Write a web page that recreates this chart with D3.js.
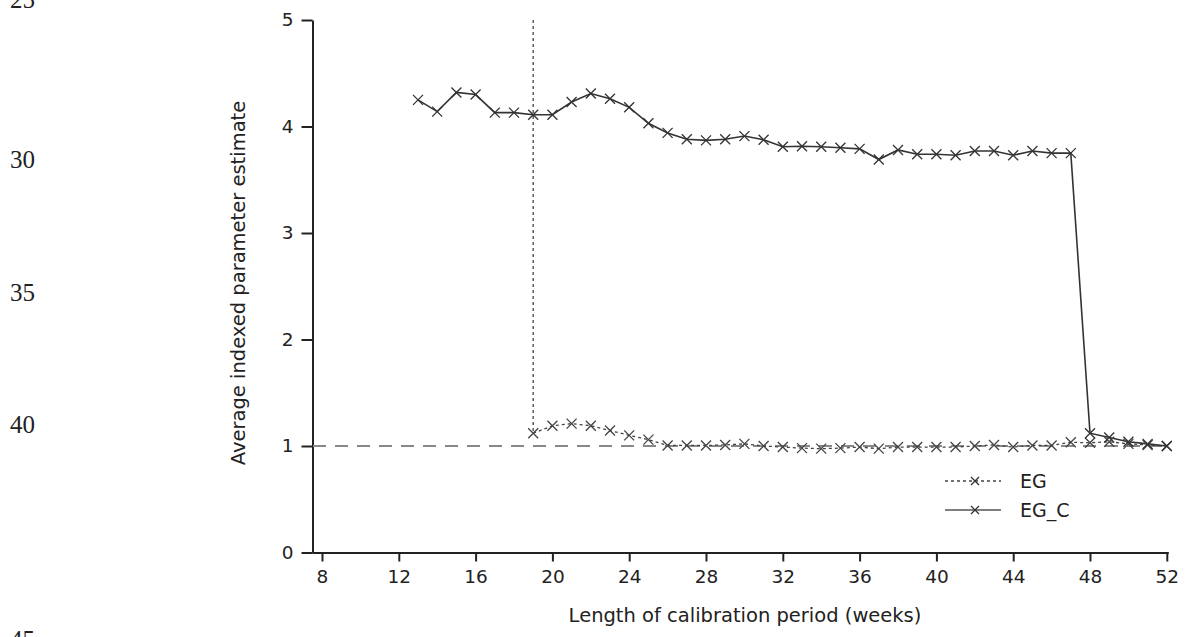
<!DOCTYPE html>
<html>
<head>
<meta charset="utf-8">
<script src="https://cdn.jsdelivr.net/npm/d3@7"></script>
<style>
  html, body { margin: 0; padding: 0; background: #fff; }
  svg { display: block; }
  text { font-family: "DejaVu Sans", "Noto Sans", sans-serif; fill: #222; }
  .lineno { font-family: "Liberation Serif", serif; font-size: 25px; fill: #222; }
</style>
</head>
<body>
<svg id="chart" width="1186" height="637"></svg>
<script>
// ---- data ----
const weeksEGC = [13,14,15,16,17,18,19,20,21,22,23,24,25,26,27,28,29,30,31,32,33,34,35,36,37,38,39,40,41,42,43,44,45,46,47,48,49,50,51,52];
const valuesEGC = [4.25,4.14,4.32,4.30,4.13,4.13,4.11,4.11,4.23,4.31,4.26,4.18,4.03,3.94,3.88,3.87,3.88,3.91,3.875,3.81,3.815,3.81,3.80,3.79,3.69,3.78,3.74,3.74,3.73,3.77,3.77,3.73,3.77,3.75,3.75,1.12,1.08,1.04,1.02,1.00];
const weeksEG = [19,20,21,22,23,24,25,26,27,28,29,30,31,32,33,34,35,36,37,38,39,40,41,42,43,44,45,46,47,48,49,50,51,52];
const valuesEG = [1.12,1.19,1.21,1.19,1.145,1.10,1.06,1.005,1.005,1.005,1.01,1.02,1.0,0.99,0.98,0.975,0.98,0.99,0.975,0.99,0.99,0.99,0.99,1.0,1.01,0.99,1.005,1.005,1.035,1.03,1.04,1.02,1.01,1.00];
const egOffscaleWeek = 19;     // EG drops in from above the top of the axis at this week
const referenceLevel = 1;
const xTicks = [8,12,16,20,24,28,32,36,40,44,48,52];
const yTicks = [0,1,2,3,4,5];
const seriesNames = ["EG", "EG_C"];
const lineNumbers = ["25","30","35","40","45"];

// ---- layout ----
const svg = d3.select("#chart");
const x = d3.scaleLinear().domain([8, 52]).range([322, 1166.8]);
const y = d3.scaleLinear().domain([0, 5]).range([552.5, 20]);

// manuscript line numbers
const lineNoY = [8, 168, 301, 433, 648];
svg.selectAll("text.lineno").data(lineNumbers).join("text")
  .attr("class", "lineno")
  .attr("x", 10).attr("y", (d, i) => lineNoY[i])
  .text(d => d);

// axes
const xAxis = d3.axisBottom(x).tickValues(xTicks).tickFormat(d3.format("d"))
  .tickSize(9).tickPadding(6).tickSizeOuter(0);
const gx = svg.append("g").attr("transform", `translate(0,${y(0)})`).call(xAxis);
gx.select(".domain").attr("d", `M${312.5},0.5H${x(52) + 2}`);
const yAxis = d3.axisLeft(y).tickValues(yTicks).tickFormat(d3.format("d"))
  .tickSize(11).tickPadding(8).tickSizeOuter(0);
const gy = svg.append("g").attr("transform", `translate(312.5,0)`).call(yAxis);
[gx, gy].forEach(g => {
  g.selectAll(".domain").attr("stroke", "#222").attr("stroke-width", 2);
  g.selectAll(".tick line").attr("stroke", "#222").attr("stroke-width", 2);
  g.selectAll(".tick text").attr("font-size", 18.5).attr("fill", "#222")
    .style("font-family", '"DejaVu Sans", sans-serif');
});
gx.selectAll(".tick text").attr("dy", "0.82em");

// axis titles
svg.append("text").attr("x", 745).attr("y", 622).attr("text-anchor", "middle")
  .attr("font-size", 19.5).text("Length of calibration period (weeks)");
svg.append("text").attr("transform", "translate(245,283) rotate(-90)")
  .attr("text-anchor", "middle").attr("font-size", 19.5)
  .text("Average indexed parameter estimate");

// reference line at 1
svg.append("line")
  .attr("x1", 313).attr("x2", x(52))
  .attr("y1", y(referenceLevel)).attr("y2", y(referenceLevel))
  .attr("stroke", "#888").attr("stroke-width", 2).attr("stroke-dasharray", "13,9");

const line = d3.line().x(d => x(d[0])).y(d => y(d[1]));
const egData = weeksEG.map((w, i) => [w, valuesEG[i]]);
const egcData = weeksEGC.map((w, i) => [w, valuesEGC[i]]);

// EG vertical entry from the top
svg.append("path")
  .attr("d", line([[egOffscaleWeek, 5], [egData[0][0], egData[0][1]]]))
  .attr("fill", "none").attr("stroke", "#444").attr("stroke-width", 1.3).attr("stroke-dasharray", "3,3");
svg.append("path").attr("d", line(egData))
  .attr("fill", "none").attr("stroke", "#444").attr("stroke-width", 1.3).attr("stroke-dasharray", "3,3");
svg.append("path").attr("d", line(egcData))
  .attr("fill", "none").attr("stroke", "#333").attr("stroke-width", 1.6);

function crosses(data, color) {
  const s = 5;
  svg.append("g").selectAll("path").data(data).join("path")
    .attr("d", d => `M${x(d[0]) - s},${y(d[1]) - s}L${x(d[0]) + s},${y(d[1]) + s}M${x(d[0]) - s},${y(d[1]) + s}L${x(d[0]) + s},${y(d[1]) - s}`)
    .attr("stroke", color).attr("stroke-width", 1.3).attr("fill", "none");
}
crosses(egData, "#444");
crosses(egcData, "#333");

// legend
const legend = svg.append("g");
const legY = [481, 510];
seriesNames.forEach((name, i) => {
  legend.append("line").attr("x1", 945).attr("x2", 1001).attr("y1", legY[i]).attr("y2", legY[i])
    .attr("stroke", i === 0 ? "#444" : "#555").attr("stroke-width", i === 0 ? 1.3 : 1.6)
    .attr("stroke-dasharray", i === 0 ? "3,3" : null);
  const s = 4;
  legend.append("path")
    .attr("d", `M${975 - s},${legY[i] - s}L${975 + s},${legY[i] + s}M${975 - s},${legY[i] + s}L${975 + s},${legY[i] - s}`)
    .attr("stroke", "#333").attr("stroke-width", 1.3);
  legend.append("text").attr("x", 1020).attr("y", legY[i]).attr("dy", "0.35em")
    .attr("font-size", 19).text(name);
});
</script>
</body>
</html>
